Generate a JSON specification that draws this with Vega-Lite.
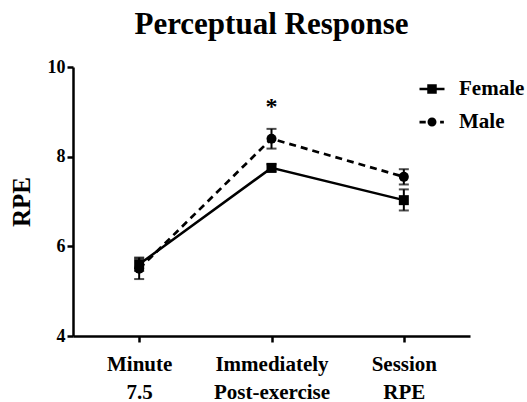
{
  "$schema": "https://vega.github.io/schema/vega-lite/v6.json",
  "autosize": "none",
  "width": 397,
  "height": 269,
  "padding": {"left": 73, "top": 67, "right": 57, "bottom": 66},
  "title": {
    "text": "Perceptual Response",
    "font": "Liberation Serif",
    "fontSize": 31,
    "fontWeight": "bold",
    "color": "black",
    "anchor": "middle",
    "frame": "group",
    "baseline": "alphabetic",
    "offset": -7
  },
  "config": {
    "view": {"stroke": null},
    "axis": {
      "domainColor": "black",
      "domainWidth": 2.5,
      "tickColor": "black",
      "tickWidth": 2.5,
      "labelFont": "Liberation Serif",
      "labelFontWeight": "bold",
      "labelColor": "black",
      "titleFont": "Liberation Serif",
      "titleFontWeight": "bold",
      "titleColor": "black",
      "grid": false
    },
    "legend": {
      "labelFont": "Liberation Serif",
      "labelFontWeight": "bold",
      "labelColor": "black",
      "labelFontSize": 21
    }
  },
  "datasets": {
    "rpe": [
      {"time": "Minute 7.5", "sex": "Female", "rpe": 5.6, "lo": 5.45, "hi": 5.75},
      {"time": "Immediately Post-exercise", "sex": "Female", "rpe": 7.75, "lo": 7.67, "hi": 7.83},
      {"time": "Session RPE", "sex": "Female", "rpe": 7.03, "lo": 6.8, "hi": 7.27},
      {"time": "Minute 7.5", "sex": "Male", "rpe": 5.5, "lo": 5.27, "hi": 5.73},
      {"time": "Immediately Post-exercise", "sex": "Male", "rpe": 8.4, "lo": 8.18, "hi": 8.62},
      {"time": "Session RPE", "sex": "Male", "rpe": 7.55, "lo": 7.38, "hi": 7.72}
    ],
    "sig": [
      {"time": "Immediately Post-exercise", "y": 8.95, "label": "*"}
    ]
  },
  "data": {"name": "rpe"},
  "encoding": {
    "x": {
      "field": "time",
      "type": "ordinal",
      "scale": {"type": "point", "padding": 0.5, "domain": ["Minute 7.5", "Immediately Post-exercise", "Session RPE"]},
      "axis": {
        "title": null,
        "labelAngle": 0,
        "labelFont": "Liberation Serif",
        "labelFontWeight": "bold",
        "labelFontSize": 21,
        "labelLineHeight": 28,
        "labelPadding": 11,
        "tickSize": 6,
        "labelExpr": "split(datum.label, ' ')"
      }
    }
  },
  "layer": [
    {
      "transform": [{"filter": "datum.sex === 'Female'"}],
      "mark": {"type": "line", "color": "black", "strokeWidth": 2.5},
      "encoding": {
        "y": {
          "field": "rpe",
          "type": "quantitative",
          "scale": {"domain": [4, 10], "nice": false, "zero": false},
          "axis": {
            "title": "RPE",
            "titleFontSize": 25,
            "titlePadding": 13,
            "values": [4, 6, 8, 10],
            "labelFont": "Liberation Serif",
            "labelFontWeight": "bold",
            "labelFontSize": 18,
            "tickSize": 6,
            "labelPadding": 2
          }
        }
      }
    },
    {
      "transform": [{"filter": "datum.sex === 'Male'"}],
      "mark": {"type": "line", "color": "black", "strokeWidth": 2.7, "strokeDash": [7, 5]},
      "encoding": {
        "y": {"field": "rpe", "type": "quantitative"}
      }
    },
    {
      "mark": {"type": "rule", "color": "black", "strokeWidth": 2},
      "encoding": {
        "y": {"field": "lo", "type": "quantitative"},
        "y2": {"field": "hi"}
      }
    },
    {
      "mark": {"type": "tick", "color": "black", "thickness": 2, "size": 10},
      "encoding": {"y": {"field": "lo", "type": "quantitative"}}
    },
    {
      "mark": {"type": "tick", "color": "black", "thickness": 2, "size": 10},
      "encoding": {"y": {"field": "hi", "type": "quantitative"}}
    },
    {
      "transform": [{"filter": "datum.sex === 'Female'"}],
      "mark": {"type": "point", "shape": "square", "filled": true, "color": "black", "opacity": 1, "size": 100},
      "encoding": {
        "y": {"field": "rpe", "type": "quantitative"}
      }
    },
    {
      "transform": [{"filter": "datum.sex === 'Male'"}],
      "mark": {"type": "point", "shape": "circle", "filled": true, "color": "black", "opacity": 1, "size": 100},
      "encoding": {
        "y": {"field": "rpe", "type": "quantitative"}
      }
    },
    {
      "transform": [{"filter": "datum.sex === 'none'"}],
      "mark": {"type": "point", "filled": true, "fill": "black", "stroke": "black", "strokeWidth": 2.5, "opacity": 1, "size": 625},
      "encoding": {
        "y": {"field": "rpe", "type": "quantitative"},
        "shape": {
          "field": "sex",
          "type": "nominal",
          "scale": {
            "domain": ["Female", "Male"],
            "range": [
              "M-1,-0.1L1,-0.1L1,0.1L-1,0.1ZM-0.38,-0.38L0.38,-0.38L0.38,0.38L-0.38,0.38Z",
              "M-1,-0.11L-0.5,-0.11L-0.5,0.11L-1,0.11ZM0.65,-0.11L0.95,-0.11L0.95,0.11L0.65,0.11ZM0.36,0C0.36,0.199,0.199,0.36,0,0.36C-0.199,0.36,-0.36,0.199,-0.36,0C-0.36,-0.199,-0.199,-0.36,0,-0.36C0.199,-0.36,0.36,-0.199,0.36,0Z"
            ]
          },
          "legend": {
            "title": null,
            "orient": "none",
            "legendX": 345,
            "legendY": 8,
            "symbolSize": 625,
            "symbolFillColor": "black",
            "symbolStrokeColor": "black",
            "symbolStrokeWidth": 2.5,
            "symbolOpacity": 1,
            "rowPadding": 9,
            "labelOffset": 13,
            "padding": 0,
            "labelFont": "Liberation Serif",
            "labelFontWeight": "bold",
            "labelFontSize": 21
          }
        }
      }
    },
    {
      "data": {"name": "sig"},
      "mark": {"type": "text", "font": "Liberation Serif", "fontSize": 24, "fontWeight": "bold", "color": "black", "baseline": "alphabetic"},
      "encoding": {
        "y": {"field": "y", "type": "quantitative"},
        "text": {"field": "label"}
      }
    }
  ]
}
